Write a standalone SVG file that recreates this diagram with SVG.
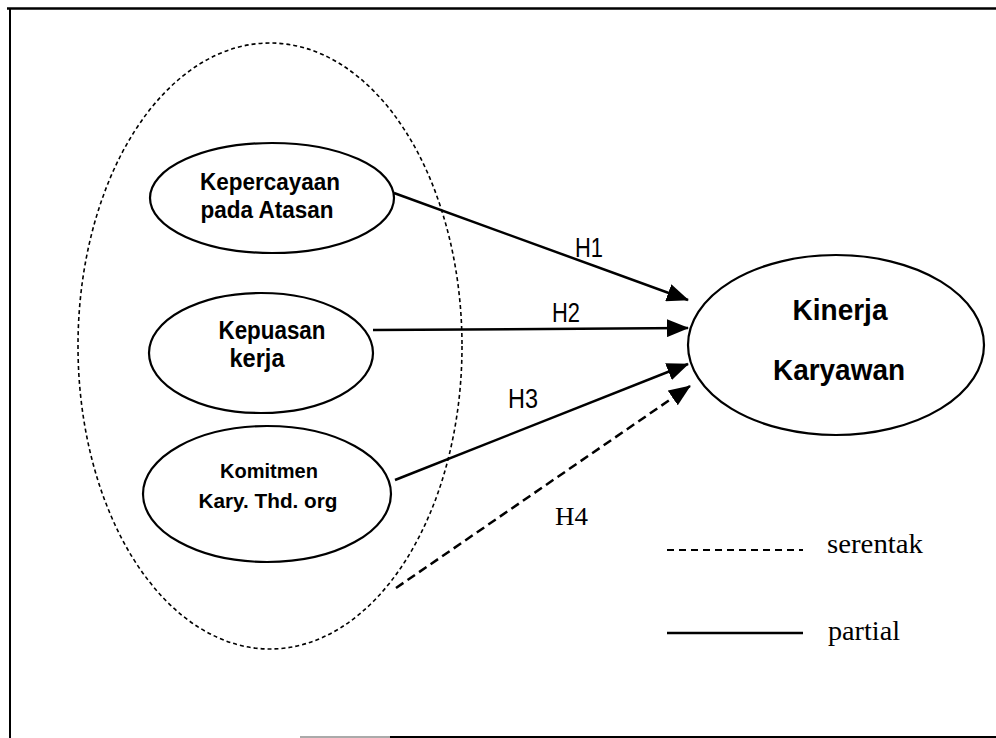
<svg xmlns="http://www.w3.org/2000/svg" width="996" height="738" viewBox="0 0 996 738">
<defs>
<marker id="ah" markerUnits="userSpaceOnUse" markerWidth="22" markerHeight="18" viewBox="0 0 22 18" refX="21" refY="9" orient="auto">
<path d="M0,0 L22,9 L0,18 Z" fill="#000"/>
</marker>
<style>
.node{fill:#fff;stroke:#000;stroke-width:2.2}
.grp{fill:none;stroke:#000;stroke-width:1.6;stroke-dasharray:4 3}
.lbl{font-family:"Liberation Sans",Arial,sans-serif;font-weight:bold;fill:#000;text-anchor:middle}
.h{font-family:"Liberation Sans",Arial,sans-serif;fill:#000;font-size:28px}
.t{font-family:"Liberation Serif","Times New Roman",serif;fill:#000}
.ln{stroke:#000;stroke-width:2.5;fill:none}
.dash{stroke-dasharray:9 5}
</style>
</defs>
<rect width="996" height="738" fill="#fff"/>
<g id="frame" fill="none" stroke="#000">
<line x1="7" y1="8.5" x2="996" y2="8.5" stroke-width="2.5"/>
<line x1="10" y1="8" x2="10" y2="738" stroke-width="2"/>
<line x1="300" y1="737" x2="390" y2="737" stroke="#aaa" stroke-width="2"/>
<line x1="390" y1="737" x2="996" y2="737" stroke-width="2"/>
</g>
<g id="group-ellipse"><ellipse class="grp" cx="270" cy="346" rx="192" ry="303"/></g>
<g id="connectors">
<line class="ln" x1="394" y1="193" x2="688" y2="300" marker-end="url(#ah)"/>
<line class="ln" x1="373" y1="330" x2="688" y2="328" marker-end="url(#ah)"/>
<line class="ln" x1="395" y1="480" x2="688" y2="364" marker-end="url(#ah)"/>
<line class="ln dash" x1="396" y1="588" x2="690" y2="386" marker-end="url(#ah)"/>
<text class="h" x="575" y="257" textLength="28" lengthAdjust="spacingAndGlyphs">H1</text>
<text class="h" x="552" y="322" textLength="28" lengthAdjust="spacingAndGlyphs">H2</text>
<text class="h" x="508" y="408" textLength="30" lengthAdjust="spacingAndGlyphs">H3</text>
<text class="t" x="555" y="525" font-size="26" textLength="33" lengthAdjust="spacingAndGlyphs">H4</text>
</g>
<g id="node-kepercayaan">
<ellipse class="node" cx="272" cy="198" rx="122" ry="55"/>
<text class="lbl" x="270" y="190" font-size="23" textLength="140" lengthAdjust="spacingAndGlyphs">Kepercayaan</text>
<text class="lbl" x="267" y="218" font-size="23" textLength="133" lengthAdjust="spacingAndGlyphs">pada Atasan</text>
</g>
<g id="node-kepuasan">
<ellipse class="node" cx="261" cy="353" rx="112" ry="60"/>
<text class="lbl" x="272" y="339" font-size="25" textLength="107" lengthAdjust="spacingAndGlyphs">Kepuasan</text>
<text class="lbl" x="257" y="367" font-size="25" textLength="55" lengthAdjust="spacingAndGlyphs">kerja</text>
</g>
<g id="node-komitmen">
<ellipse class="node" cx="267" cy="494" rx="124" ry="68"/>
<text class="lbl" x="269" y="478" font-size="21" textLength="98" lengthAdjust="spacingAndGlyphs">Komitmen</text>
<text class="lbl" x="268" y="508" font-size="21" textLength="139" lengthAdjust="spacingAndGlyphs">Kary. Thd. org</text>
</g>
<g id="node-kinerja">
<ellipse class="node" cx="836" cy="345" rx="148" ry="90"/>
<text class="lbl" x="840" y="320" font-size="30" textLength="95" lengthAdjust="spacingAndGlyphs">Kinerja</text>
<text class="lbl" x="839" y="380" font-size="30" textLength="132" lengthAdjust="spacingAndGlyphs">Karyawan</text>
</g>
<g id="legend">
<line x1="667" y1="550" x2="803" y2="550" stroke="#000" stroke-width="2" stroke-dasharray="7 5"/>
<text class="t" x="827" y="553" font-size="27" textLength="96" lengthAdjust="spacingAndGlyphs">serentak</text>
<line x1="667" y1="633" x2="803" y2="633" stroke="#000" stroke-width="2.5"/>
<text class="t" x="828" y="640" font-size="27" textLength="72" lengthAdjust="spacingAndGlyphs">partial</text>
</g>
</svg>
